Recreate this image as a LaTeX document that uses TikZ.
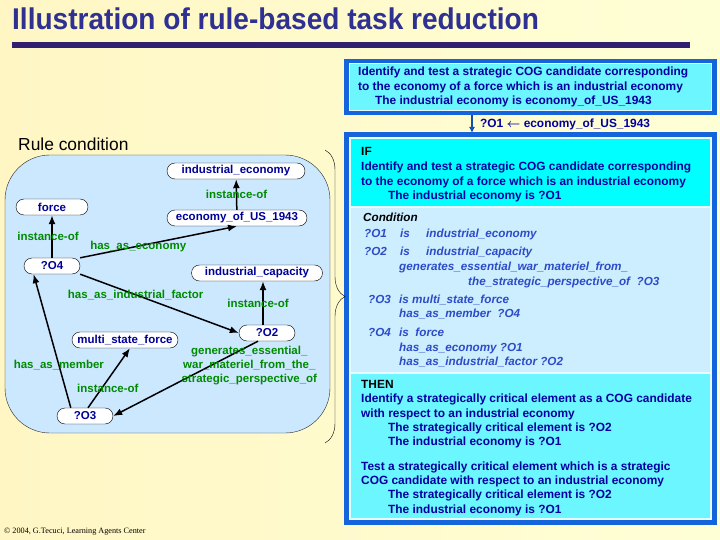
\documentclass[tikz,border=0pt]{standalone}
\usepackage{amsmath}
\usepackage{fontspec}
\setmainfont{Liberation Sans}
\newfontfamily\footfont{Liberation Serif}
\usetikzlibrary{arrows}
\usetikzlibrary{arrows.meta}
\usetikzlibrary{decorations.pathreplacing}

\definecolor{titleblue}{HTML}{2E3192}
\definecolor{barpurple}{HTML}{31206F}
\definecolor{boxblue}{HTML}{1464DC}
\definecolor{paleline}{HTML}{E6FCFF}
\definecolor{ifcyan}{HTML}{00FFFF}
\definecolor{thencyan}{HTML}{6CF6FF}
\definecolor{condblue}{HTML}{CCEEFF}
\definecolor{paneblue}{HTML}{CCE8FF}
\definecolor{textblue}{HTML}{0000A0}
\definecolor{condtext}{HTML}{2D4BC8}
\definecolor{nodeblue}{HTML}{000099}
\definecolor{lblgreen}{HTML}{008A00}
\definecolor{bgleft}{HTML}{FFF6C4}
\definecolor{bgright}{HTML}{FFFFD6}

\begin{document}
\begin{tikzpicture}[x=1pt,y=-1pt]
    \tikzset{obj/.style = {shape=rectangle,rounded corners=8pt,draw,thin,fill=white,minimum height=16pt,inner xsep=4pt,inner ysep=0pt,font=\fontsize{11.5}{13}\bfseries\selectfont,text=nodeblue}}
    \tikzset{rel/.style = {font=\fontsize{11.5}{14}\bfseries\selectfont,text=lblgreen,inner sep=0pt}}
    \tikzset{edge/.style = {->,> = {Latex[length=9pt,width=7pt]},line width=1.5pt}}
    \tikzset{goaltxt/.style = {anchor=base west,inner sep=0pt,font=\fontsize{11.9}{13}\bfseries\selectfont,text=textblue}}
    \tikzset{headtxt/.style = {goaltxt,text=black}}
    \tikzset{condtxt/.style = {anchor=base west,inner sep=0pt,font=\fontsize{11.7}{13}\bfseries\itshape\selectfont,text=condtext}}

    % page
    \fill[left color=bgleft,right color=bgright] (0,0) rectangle (720,540);
    \useasboundingbox (0,0) rectangle (720,540);

    \node[anchor=base west,inner sep=0pt,text=titleblue,font=\fontsize{30}{32}\bfseries\selectfont] (title) at (12,30) {\scalebox{0.935}[1]{Illustration of rule-based task reduction}};
    \fill[barpurple] (12,42) rectangle (690,48);

    % goal box
    \fill[boxblue] (344,59) rectangle (717,115);
    \fill[paleline] (349,63) rectangle (712,111);
    \fill[thencyan] (350,64) rectangle (711,110);
    \node[goaltxt] (g1) at (358,76) {Identify and test a strategic COG candidate corresponding};
    \node[goaltxt] (g2) at (358,90.5) {to the economy of a force which is an industrial economy};
    \node[goaltxt] (g3) at (375,105) {The industrial economy is economy\_of\_US\_1943};

    \coordinate (goalout) at (472,115);
    \coordinate (rulein) at (472,133);
    \draw[->,> = {Latex[length=6pt,width=6pt]},boxblue!80!black,line width=2.5pt] (goalout) -- (rulein);
    \node[goaltxt] (bind) at (480,128) {?O1 $\boldsymbol{\leftarrow}$ economy\_of\_US\_1943};

    % rule box
    \fill[boxblue] (344,132) rectangle (717,525);
    \fill[paleline] (349,137) rectangle (712,520);
    \fill[ifcyan] (351,139) rectangle (710,206);
    \fill[condblue] (351,208) rectangle (710,372);
    \fill[thencyan] (351,374) rectangle (710,518);

    \node[headtxt] (if) at (361,156) {IF};
    \node[goaltxt] (if1) at (361,171) {Identify and test a strategic COG candidate corresponding};
    \node[goaltxt] (if2) at (361,186) {to the economy of a force which is an industrial economy};
    \node[goaltxt] (if3) at (388,200) {The industrial economy is ?O1};

    \node[headtxt,font=\fontsize{11.7}{13}\bfseries\itshape\selectfont] (cond) at (363,222) {Condition};
    \node[condtxt] (c1) at (364,237) {\makebox[36pt][l]{?O1}\makebox[26pt][l]{is}industrial\_economy};
    \node[condtxt] (c2) at (364,255) {\makebox[36pt][l]{?O2}\makebox[26pt][l]{is}industrial\_capacity};
    \node[condtxt] (c3) at (399,270) {generates\_essential\_war\_materiel\_from\_};
    \node[condtxt] (c4) at (468,285) {the\_strategic\_perspective\_of ~?O3};
    \node[condtxt] (c5) at (368,303) {\makebox[31pt][l]{?O3}is multi\_state\_force};
    \node[condtxt] (c6) at (399,317) {has\_as\_member ~?O4};
    \node[condtxt] (c7) at (368,336) {\makebox[31pt][l]{?O4}is ~force};
    \node[condtxt] (c8) at (399,351) {has\_as\_economy ?O1};
    \node[condtxt] (c9) at (399,365) {has\_as\_industrial\_factor ?O2};

    \node[headtxt] (then) at (361,388) {THEN};
    \node[goaltxt] (t1) at (361,402) {Identify a strategically critical element as a COG candidate};
    \node[goaltxt] (t2) at (361,417) {with respect to an industrial economy};
    \node[goaltxt] (t3) at (388,431) {The strategically critical element is ?O2};
    \node[goaltxt] (t4) at (388,445) {The industrial economy is ?O1};
    \node[goaltxt] (t5) at (361,470) {Test a strategically critical element which is a strategic};
    \node[goaltxt] (t6) at (361,484) {COG candidate with respect to an industrial economy};
    \node[goaltxt] (t7) at (388,498) {The strategically critical element is ?O2};
    \node[goaltxt] (t8) at (388,513) {The industrial economy is ?O1};

    % rule condition graph
    \node[anchor=base west,inner sep=0pt,font=\fontsize{17.4}{19}\selectfont] (rc) at (18,151) {Rule condition};
    \filldraw[fill=paneblue,draw=black!85,rounded corners=45pt] (5,155) rectangle (330,433);
    \draw[decorate,decoration={brace,amplitude=20pt}] (325,150) -- (325,443);

    % vertices
    \node[obj,minimum width=138pt] (ie) at (236,171) {industrial\_economy};
    \node[obj,minimum width=72pt] (force) at (52,207) {force};
    \node[obj,minimum width=140pt] (econ) at (237,218) {economy\_of\_US\_1943};
    \node[obj,minimum width=56pt] (o4) at (52,266) {?O4};
    \node[obj,minimum width=131pt] (cap) at (257,273) {industrial\_capacity};
    \node[obj,minimum width=56pt] (o2) at (267,333) {?O2};
    \node[obj,minimum width=106pt] (msf) at (125,340) {multi\_state\_force};
    \node[obj,minimum width=56pt] (o3) at (85,416) {?O3};

    % edges
    \draw[edge] (econ) to node[rel] {instance-of} (ie);
    \draw[edge] (o4) to node[rel,xshift=-4pt] {instance-of} (force);
    \draw[edge] (o4.north east) to node[rel,pos=0.37] {has\_as\_economy} (econ.south);
    \draw[edge] (o4.south east) to node[rel,pos=0.35] {has\_as\_industrial\_factor} (o2.west);
    \draw[edge] ([xshift=-4pt]o2.north) to node[rel,xshift=-5pt] {instance-of} ([xshift=6pt]cap.south);
    \draw[edge] (o3.150) to node[rel,pos=0.32] {has\_as\_member} (o4.204);
    \draw[edge] (o3.70) to node[rel,pos=0.33,xshift=6pt] {instance-of} ([xshift=5pt]msf.south);
    \draw[edge] ([xshift=-9pt]o2.south) to node[rel,pos=0.06,anchor=north,align=center] {generates\_essential\_\\war\_materiel\_from\_the\_\\strategic\_perspective\_of} (o3.east);

    \node[anchor=base west,inner sep=0pt,font=\footfont\fontsize{8.2}{9}\selectfont] (foot) at (4,533) {© 2004, G.Tecuci, Learning Agents Center};
\end{tikzpicture}
\end{document}
